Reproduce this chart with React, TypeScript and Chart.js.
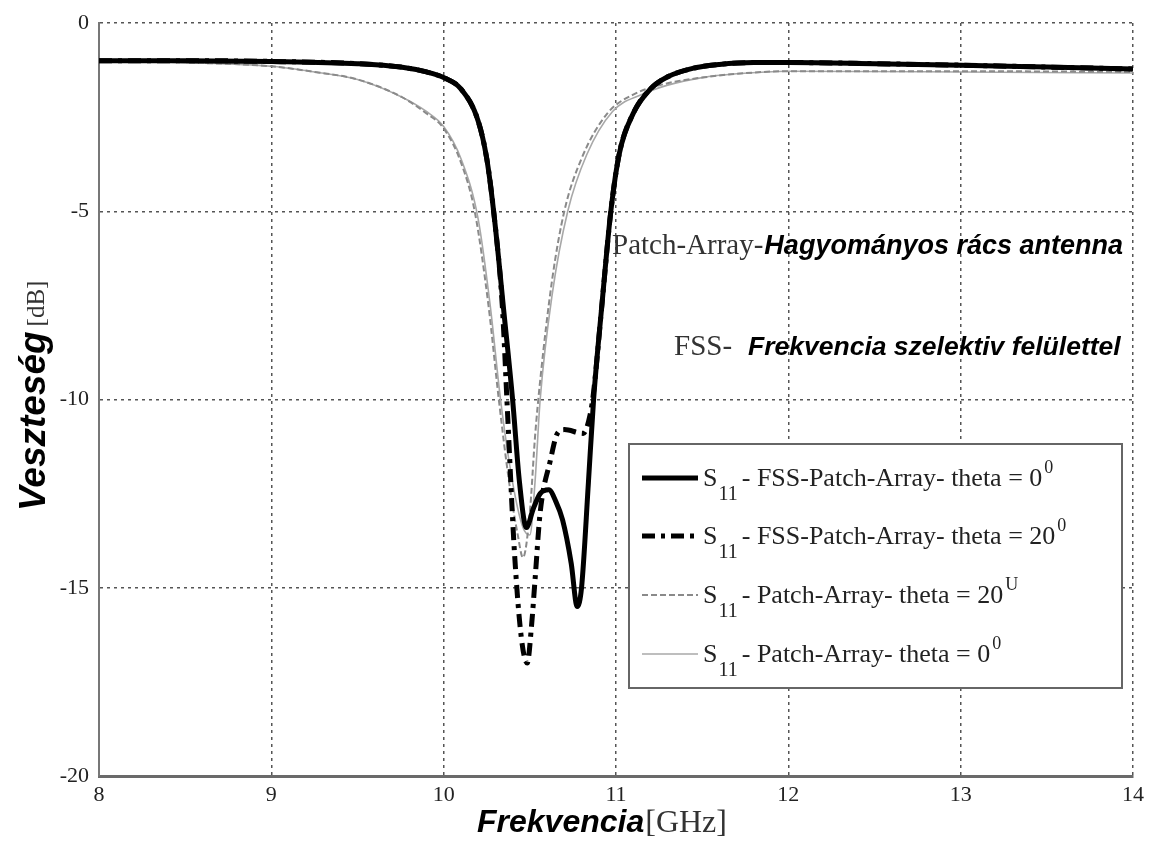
import React, { useEffect, useRef } from 'react';
import { Chart, registerables } from 'chart.js';

Chart.register(...registerables);

// ---- data (frequency in GHz, loss in dB) ----
const fss0Freq = [8.0, 8.5, 9.0, 9.5, 9.75, 9.9, 10.0, 10.1, 10.2, 10.25, 10.29, 10.35, 10.4, 10.44, 10.48, 10.52, 10.56, 10.61, 10.65, 10.69, 10.74, 10.775, 10.8, 10.84, 10.87, 10.92, 10.97, 11.02, 11.1, 11.2, 11.3, 11.45, 11.6, 11.8, 12.0, 12.5, 13.0, 13.5, 14.0];
const fss0Loss = [-1.0, -1.0, -1.02, -1.08, -1.17, -1.3, -1.45, -1.75, -2.6, -3.6, -5.0, -7.7, -10.0, -12.2, -13.4, -12.9, -12.5, -12.4, -12.7, -13.2, -14.35, -15.5, -15.0, -12.2, -10.0, -7.4, -5.0, -3.45, -2.4, -1.75, -1.43, -1.2, -1.1, -1.05, -1.05, -1.08, -1.12, -1.17, -1.22];

const fss20Freq = [8.0, 8.5, 9.0, 9.5, 9.75, 9.9, 10.0, 10.1, 10.2, 10.25, 10.29, 10.34, 10.37, 10.41, 10.45, 10.485, 10.51, 10.53, 10.56, 10.62, 10.66, 10.7, 10.81, 10.85, 10.87, 10.92, 10.97, 11.02, 11.1, 11.2, 11.3, 11.45, 11.6, 11.8, 12.0, 12.5, 13.0, 13.5, 14.0];
const fss20Loss = [-1.0, -1.0, -1.02, -1.08, -1.17, -1.3, -1.45, -1.75, -2.6, -3.6, -5.0, -7.5, -10.3, -14.0, -16.3, -17.0, -16.0, -14.8, -13.0, -11.6, -10.9, -10.8, -10.9, -10.4, -9.8, -7.4, -5.0, -3.45, -2.4, -1.75, -1.43, -1.2, -1.1, -1.05, -1.05, -1.08, -1.12, -1.17, -1.22];

const patch20Freq = [8.0, 8.5, 9.0, 9.25, 9.5, 9.75, 9.9, 10.0, 10.1, 10.18, 10.26, 10.32, 10.38, 10.43, 10.46, 10.5, 10.53, 10.56, 10.63, 10.7, 10.8, 10.95, 11.1, 11.3, 11.5, 11.7, 12.0, 13.0, 14.0];
const patch20Loss = [-1.0, -1.05, -1.15, -1.3, -1.5, -1.95, -2.4, -2.8, -3.7, -5.0, -7.5, -10.0, -12.2, -13.6, -14.2, -13.0, -11.0, -9.5, -6.8, -5.0, -3.6, -2.4, -1.9, -1.6, -1.45, -1.35, -1.28, -1.28, -1.3];

const patch0Freq = [8.0, 8.5, 9.0, 9.25, 9.5, 9.75, 9.9, 10.0, 10.1, 10.2, 10.27, 10.33, 10.4, 10.46, 10.5, 10.53, 10.56, 10.63, 10.72, 10.83, 10.98, 11.15, 11.3, 11.5, 11.7, 12.0, 13.0, 14.0];
const patch0Loss = [-1.0, -1.05, -1.15, -1.3, -1.5, -1.95, -2.35, -2.75, -3.6, -5.2, -7.5, -10.0, -12.2, -13.4, -13.6, -12.2, -10.0, -7.2, -5.0, -3.5, -2.35, -1.9, -1.65, -1.45, -1.35, -1.28, -1.3, -1.33];

const xTickValues = [8, 9, 10, 11, 12, 13, 14];
const yTickValues = [0, -5, -10, -15, -20];

const legendMain = ['- FSS-Patch-Array- theta = 0', '- FSS-Patch-Array- theta = 20', '- Patch-Array- theta = 20', '- Patch-Array- theta = 0'];
const legendSup = ['0', '0', 'U', '0'];

const note1Plain = 'Patch-Array-';
const note1Bold = 'Hagyományos rács antenna';
const note2Plain = 'FSS-';
const note2Bold = 'Frekvencia szelektiv felülettel';

const xTitleMain = 'Frekvencia';
const xTitleUnit = '[GHz]';
const yTitleMain = 'Veszteség';
const yTitleUnit = '[dB]';

const SERIF = '"Liberation Serif", "Times New Roman", serif';
const SANS = '"Liberation Sans", Arial, sans-serif';

const toPoints = (xs: number[], ys: number[]) => xs.map((x, i) => ({ x, y: ys[i] }));

const seriesStyles = [
  { color: '#000000', width: 5, dash: [] as number[] },
  { color: '#000000', width: 5, dash: [13, 6, 4, 6] },
  { color: '#8a8a8a', width: 2, dash: [6, 3] },
  { color: '#a8a8a8', width: 1.6, dash: [] as number[] },
];

const overlayPlugin = {
  id: 'overlay',
  afterDraw(chart: any) {
    const ctx: CanvasRenderingContext2D = chart.ctx;
    ctx.save();
    ctx.textBaseline = 'alphabetic';
    ctx.textAlign = 'left';

    // annotations
    ctx.fillStyle = '#333';
    ctx.font = `29px ${SERIF}`;
    ctx.fillText(note1Plain, 612, 254);
    const w = ctx.measureText(note1Plain).width;
    ctx.fillStyle = '#000';
    ctx.font = `italic bold 27px ${SANS}`;
    ctx.fillText(note1Bold, 612 + w + 1, 254);

    ctx.fillStyle = '#333';
    ctx.font = `29px ${SERIF}`;
    ctx.fillText(note2Plain, 674, 355);
    ctx.fillStyle = '#000';
    ctx.font = `italic bold 26.5px ${SANS}`;
    ctx.fillText(note2Bold, 748, 355);

    // legend box
    const bx = 629, by = 444, bw = 493, bh = 244;
    ctx.fillStyle = '#fff';
    ctx.fillRect(bx, by, bw, bh);
    ctx.strokeStyle = '#666';
    ctx.lineWidth = 2;
    ctx.strokeRect(bx, by, bw, bh);
    const rowsY = [478, 536, 595, 654];
    rowsY.forEach((ry, i) => {
      const st = seriesStyles[i];
      ctx.save();
      ctx.strokeStyle = st.color;
      ctx.lineWidth = st.width;
      ctx.setLineDash(st.dash);
      ctx.beginPath();
      ctx.moveTo(642, ry);
      ctx.lineTo(698, ry);
      ctx.stroke();
      ctx.restore();
      const base = ry + 8;
      ctx.fillStyle = '#222';
      ctx.font = `26px ${SERIF}`;
      ctx.fillText('S', 703, base);
      let x = 703 + ctx.measureText('S').width + 1;
      ctx.font = `20px ${SERIF}`;
      ctx.fillText('11', x, base + 14);
      x += ctx.measureText('11').width + 4;
      ctx.font = `26px ${SERIF}`;
      ctx.fillText(legendMain[i], x, base);
      x += ctx.measureText(legendMain[i]).width + 2;
      ctx.font = `18px ${SERIF}`;
      ctx.fillText(legendSup[i], x, base - 13);
    });

    // x title
    ctx.font = `italic bold 32px ${SANS}`;
    const xm = ctx.measureText(xTitleMain).width;
    ctx.font = `32px ${SERIF}`;
    const xu = ctx.measureText(xTitleUnit).width;
    const sx = 602 - (xm + xu + 1) / 2;
    ctx.fillStyle = '#000';
    ctx.font = `italic bold 32px ${SANS}`;
    ctx.fillText(xTitleMain, sx, 832);
    ctx.fillStyle = '#333';
    ctx.font = `32px ${SERIF}`;
    ctx.fillText(xTitleUnit, sx + xm + 1, 832);

    // y title (rotated)
    ctx.save();
    ctx.translate(45, 511);
    ctx.rotate(-Math.PI / 2);
    ctx.fillStyle = '#000';
    ctx.font = `italic bold 37px ${SANS}`;
    ctx.fillText(yTitleMain, 0, 0);
    const ym = ctx.measureText(yTitleMain).width;
    ctx.fillStyle = '#333';
    ctx.font = `25px ${SERIF}`;
    ctx.fillText(yTitleUnit, ym + 5, -1);
    ctx.restore();

    ctx.restore();
  },
};

export default function App() {
  const canvasRef = useRef<HTMLCanvasElement | null>(null);

  useEffect(() => {
    if (!canvasRef.current) return;
    const all = [
      { label: 'FSS theta 0', pts: toPoints(fss0Freq, fss0Loss), order: 1 },
      { label: 'FSS theta 20', pts: toPoints(fss20Freq, fss20Loss), order: 2 },
      { label: 'Patch theta 20', pts: toPoints(patch20Freq, patch20Loss), order: 3 },
      { label: 'Patch theta 0', pts: toPoints(patch0Freq, patch0Loss), order: 4 },
    ];
    const chart = new Chart(canvasRef.current, {
      type: 'line',
      data: {
        datasets: all.map((d, i) => ({
          label: d.label,
          data: d.pts,
          borderColor: seriesStyles[i].color,
          borderWidth: seriesStyles[i].width,
          borderDash: seriesStyles[i].dash,
          pointRadius: 0,
          fill: false,
          cubicInterpolationMode: 'monotone' as const,
          order: d.order,
        })),
      },
      options: {
        responsive: false,
        animation: false,
        devicePixelRatio: 1,
        layout: { padding: { left: 0, right: 16, top: 23, bottom: 0 } },
        plugins: { legend: { display: false }, tooltip: { enabled: false }, title: { display: false } },
        scales: {
          x: {
            type: 'linear',
            min: 8,
            max: 14,
            afterBuildTicks: (s: any) => { s.ticks = xTickValues.map((v) => ({ value: v })); },
            afterFit: (s: any) => { s.height = 70; s.paddingLeft = 0; s.paddingRight = 0; },
            ticks: { color: '#222', font: { family: SERIF, size: 22 }, padding: 6 },
            grid: { color: '#555', lineWidth: 1.5, drawTicks: false },
            border: { display: true, color: '#6a6a6a', width: 3, dash: [3, 4] },
          },
          y: {
            type: 'linear',
            min: -20,
            max: 0,
            afterBuildTicks: (s: any) => { s.ticks = yTickValues.map((v) => ({ value: v })); },
            afterFit: (s: any) => { s.width = 99; s.paddingTop = 0; s.paddingBottom = 0; },
            ticks: { color: '#222', font: { family: SERIF, size: 22 }, padding: 10 },
            grid: { color: '#555', lineWidth: 1.5, drawTicks: false },
            border: { display: true, color: '#777', width: 2, dash: [3, 4] },
          },
        },
      },
      plugins: [overlayPlugin],
    });
    return () => chart.destroy();
  }, []);

  return (
    <div style={{ position: 'fixed', left: 0, top: 0, width: 1149, height: 846, background: '#fff' }}>
      <canvas ref={canvasRef} width={1149} height={846} style={{ width: 1149, height: 846, display: 'block' }} />
    </div>
  );
}
